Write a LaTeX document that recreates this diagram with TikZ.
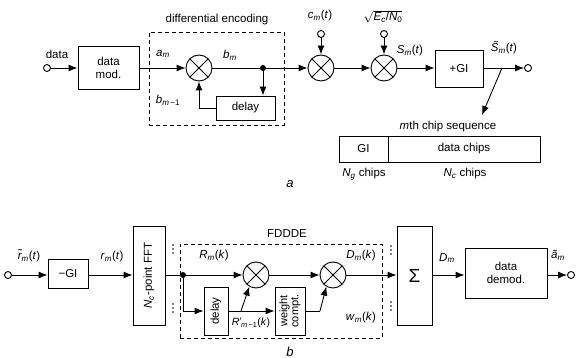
\documentclass[tikz,border=0pt]{standalone}
\usepackage{fontspec}
\setmainfont{Liberation Sans}
\usetikzlibrary{arrows.meta,calc}
\newcommand{\vv}[2]{\textit{#1}\textsubscript{\textit{#2}}}
\begin{document}
\begin{tikzpicture}[x=1pt,y=-1pt,
  font=\fontsize{11.5}{13}\selectfont,
  >={Latex[length=9pt,width=7pt]},
  line width=0.9pt,
  box/.style={draw, line width=0.9pt, inner sep=0pt, align=center},
  mult/.style={draw, circle, minimum size=26pt, inner sep=0pt,
    path picture={\draw[line width=0.9pt]
      (path picture bounding box.south west) -- (path picture bounding box.north east)
      (path picture bounding box.north west) -- (path picture bounding box.south east);}},
  term/.style={draw, circle, minimum size=7pt, inner sep=0pt, fill=white},
  jdot/.style={circle, fill, minimum size=6pt, inner sep=0pt},
  dbox/.style={draw, dash pattern=on 4pt off 3pt, line width=0.9pt},
  lbl/.style={inner sep=1pt},
  vdot/.style={circle, fill, minimum size=1.8pt, inner sep=0pt}
]
\useasboundingbox (0,0) rectangle (576,358);

% ===== (a) transmitter =====
\node[term] (in1) at (47,68) {};
\node[lbl] (ldata) at (57,54) {data};
\node[box, minimum width=61pt, minimum height=43pt] (dmod) at (108.5,68) {data\\mod.};
\node[dbox, minimum width=135pt, minimum height=93pt, inner sep=0pt] (de) at (216.5,78.5) {};
\node[lbl] (lde) at (217,20) {differential encoding};
\node[lbl] (lam) at (163,54) {\vv{a}{m}};
\node[mult] (m1) at (199,68) {};
\node[lbl] (lbm) at (230,55) {\vv{b}{m}};
\node[jdot] (dot1) at (263,68) {};
\node[box, minimum width=59pt, minimum height=24pt] (del1) at (245.5,108) {delay};
\node[lbl] (lbm1) at (168,100) {\textit{b}\textsubscript{\textit{m}\,−1}};
\node[mult] (m2) at (321,68) {};
\node[term] (t2) at (321,34) {};
\node[lbl] (lcm) at (320,16) {\vv{c}{m}(\textit{t})};
\node[mult] (m3) at (384,68) {};
\node[term] (t3) at (384,34) {};
\node[lbl] (lsq) at (383,17) {$\sqrt{\mbox{\textit{E}\textsubscript{\textit{c}}/\textit{N}\textsubscript{0}}}$};
\node[lbl] (lsm) at (410,51) {\vv{S}{m}(\textit{t})};
\node[box, minimum width=48pt, minimum height=37pt] (gi) at (459,68.5) {+GI};
\node[lbl] (lst) at (504,48) {\textit{\~S}\textsubscript{\textit{m}}(\textit{t})};
\node[term] (out1) at (528,68) {};
\coordinate (br) at (502,68);
\coordinate (brend) at (482,115);

\node[lbl] (lchip) at (448,127) {\textit{m}th chip sequence};
\node[box, minimum width=49pt, minimum height=26pt] (tgi) at (363.5,149) {GI};
\node[box, minimum width=152pt, minimum height=26pt] (tdat) at (464,149) {data chips};
\node[lbl] (lng) at (364,174) {\vv{N}{g} chips};
\node[lbl] (lnc) at (465,174) {\vv{N}{c} chips};
\node[lbl, font=\fontsize{13}{15}\selectfont] (la) at (290,184) {\textit{a}};

\draw[->] (in1) -- (dmod.west);
\draw[->] (dmod.east) -- (m1.west);
\draw (m1.east) -- (dot1);
\draw[->] (dot1) -- (m2.west);
\draw[->] (dot1) -- (dot1 |- del1.north);
\draw[->] (del1.west) -| (m1.south);
\draw[->] (t2) -- (m2.north);
\draw[->] (t3) -- (m3.north);
\draw[->] (m2.east) -- (m3.west);
\draw[->] (m3.east) -- (m3.east -| gi.west);
\draw[->] (gi.east |- out1) -- (out1);
\draw[->] (br) -- (brend);

% ===== (b) receiver =====
\node[term] (in2) at (8,275) {};
\node[lbl] (lrt) at (29,256) {\textit{\~r}\textsubscript{\textit{m}}(\textit{t})};
\node[box, minimum width=40pt, minimum height=29pt] (mgi) at (68,274) {−GI};
\node[lbl] (lrm) at (112,257) {\vv{r}{m}(\textit{t})};
\node[box, minimum width=32pt, minimum height=99pt] (fft) at (149,275.5) {};
\node[rotate=90, inner sep=0pt] (lfft) at (fft.center) {\vv{N}{c}-point FFT};
\node[jdot] (dot2) at (183,275) {};
\node[dbox, minimum width=202pt, minimum height=94pt, inner sep=0pt] (fd) at (281,291) {};
\node[lbl] (lfd) at (287,234) {FDDDE};
\foreach \x/\y in {173/245, 173/304, 391/246, 391/302} {
  \node[vdot] at (\x,\y) {};
  \node[vdot] at (\x,\y+4) {};
  \node[vdot] at (\x,\y+8) {};
}
\node[lbl] (lrk) at (214,256) {\vv{R}{m}(\textit{k})};
\node[mult] (mA) at (256,275) {};
\node[box, minimum width=24pt, minimum height=48pt] (del2) at (216,311) {};
\node[rotate=90, inner sep=0pt] (ldel2) at (del2.center) {delay};
\node[box, minimum width=30pt, minimum height=48pt] (wc) at (290,311) {};
\node[rotate=90, inner sep=0pt, align=center, font=\fontsize{11}{11}\selectfont] (lwc) at (wc.center) {weight\\compt.};
\node[lbl, font=\fontsize{10.5}{12}\selectfont] (lrp) at (251,323) {\textit{R}$'$\kern-1pt\textsubscript{\textit{m}\,−1}(\textit{k})};
\coordinate (brA) at (241,311);
\node[mult] (mB) at (333,275) {};
\coordinate (wcB) at (320,311);
\node[lbl] (ldk) at (361,256) {\vv{D}{m}(\textit{k})};
\node[lbl] (lwk) at (361,318) {\vv{w}{m}(\textit{k})};
\node[box, minimum width=35pt, minimum height=99pt, font=\fontsize{19}{22}\selectfont] (sig) at (414.5,275.5) {Σ};
\node[lbl] (ldm) at (447,258) {\vv{D}{m}};
\node[box, minimum width=82pt, minimum height=50pt] (dmd) at (506,273) {data\\demod.};
\node[lbl] (lat) at (558,255) {\textit{\~a}\textsubscript{\textit{m}}};
\node[term] (out2) at (571,275) {};
\node[lbl, font=\fontsize{13}{15}\selectfont] (lb) at (290,352) {\textit{b}};

\draw[->] (in2) -- (in2 -| mgi.west);
\draw[->] (in2 -| mgi.east) -- (in2 -| fft.west);
\draw (dot2 -| fft.east) -- (dot2);
\draw[->] (dot2) -- (mA.west);
\draw[->] (dot2) |- (del2.west);
\draw[->] (del2.east) -- (wc.west);
\draw[->] (brA) -- (mA.240);
\draw[->] (mA.east) -- (mB.west);
\draw (wc.east) -- (wcB);
\draw[->] (wcB) -- (mB.240);
\draw[->] (mB.east) -- (mB.east -| sig.west);
\draw[->] (mB.east -| sig.east) -- (mB.east -| dmd.west);
\draw[->] (mB.east -| dmd.east) -- (out2);
\end{tikzpicture}
\end{document}
